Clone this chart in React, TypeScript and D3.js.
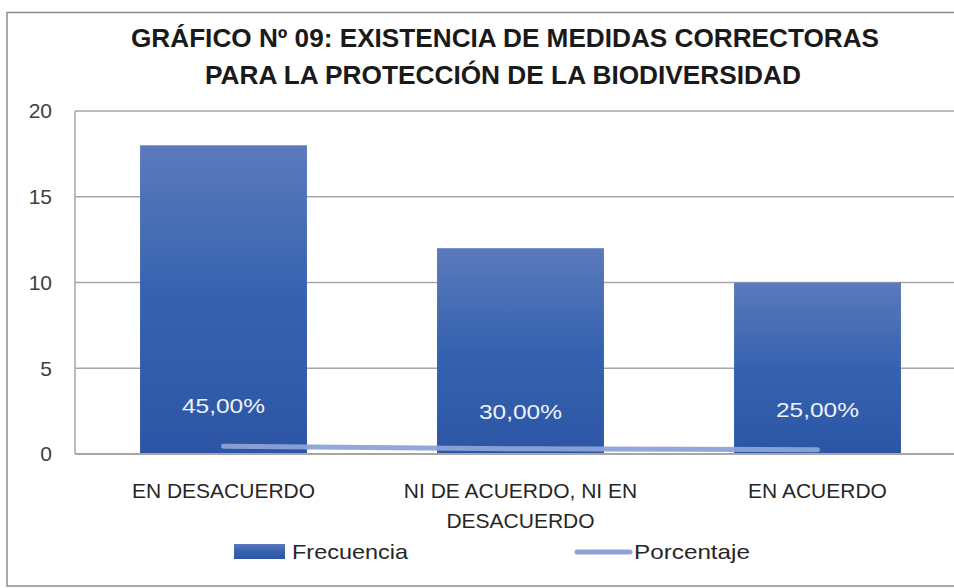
import React from 'react';
import * as d3 from 'd3';

const categories = ['EN DESACUERDO', 'NI DE ACUERDO, NI EN|DESACUERDO', 'EN ACUERDO'];
const frecuencia = [18, 12, 10];
const porcentaje = [0.45, 0.30, 0.25];
const pctLabels = ['45,00%', '30,00%', '25,00%'];
const yTicks = [0, 5, 10, 15, 20];

const W = 954;
const H = 588;
const plot = { left: 75, right: 966, top: 111, bottom: 454 };
const font = '"Liberation Sans", Arial, sans-serif';

const App = () => {
  const x = d3.scaleBand<string>()
    .domain(categories)
    .range([plot.left, plot.right])
    .paddingInner(0.438)
    .paddingOuter(0.219);

  const y = d3.scaleLinear()
    .domain([0, 20])
    .range([plot.bottom, plot.top]);

  const cx = (c: string) => (x(c) as number) + x.bandwidth() / 2;

  const line = d3.line<number>()
    .x((_, i) => cx(categories[i]))
    .y(d => y(d));

  // label offsets above the line points (as the source placed them)
  const labelDy = [-41, -37, -40];

  return (
    <svg width={W} height={H} style={{ position: 'absolute', left: 0, top: 0 }}>
      <defs>
        <linearGradient id="barGrad" x1="0" y1="0" x2="0" y2="1">
          <stop offset="0%" stopColor="#5b7abb" />
          <stop offset="50%" stopColor="#3562b0" />
          <stop offset="100%" stopColor="#2c56a5" />
        </linearGradient>
      </defs>
      <rect x={0} y={0} width={W} height={H} fill="#fff" />
      {/* outer frame */}
      <rect x={7} y={12.5} width={960} height={573.5} fill="none" stroke="#8c8c8c" strokeWidth={1.5} />

      {/* title */}
      <text x={505} y={47} textAnchor="middle" fontFamily={font} fontWeight="bold" fontSize={25}
        fill="#1a1a1a" textLength={748} lengthAdjust="spacingAndGlyphs">
        GRÁFICO Nº 09: EXISTENCIA DE MEDIDAS CORRECTORAS
      </text>
      <text x={503} y={84} textAnchor="middle" fontFamily={font} fontWeight="bold" fontSize={25}
        fill="#1a1a1a" textLength={596} lengthAdjust="spacingAndGlyphs">
        PARA LA PROTECCIÓN DE LA BIODIVERSIDAD
      </text>

      {/* plot frame + gridlines */}
      <line x1={plot.left} x2={plot.left} y1={plot.top} y2={plot.bottom} stroke="#a6a6a6" strokeWidth={1.5} />
      {yTicks.filter(t => t > 0).map(t => (
        <line key={t} x1={plot.left} x2={plot.right} y1={y(t)} y2={y(t)} stroke="#a6a6a6" strokeWidth={1.5} />
      ))}

      {/* y tick labels */}
      {yTicks.map(t => (
        <text key={t} x={52} y={y(t)} dy="0.35em" textAnchor="end" fontFamily={font} fontSize={21} fill="#404040">
          {t}
        </text>
      ))}

      {/* bars */}
      {categories.map((c, i) => (
        <rect key={c} x={x(c)} y={y(frecuencia[i])} width={x.bandwidth()} height={plot.bottom - y(frecuencia[i])}
          fill="url(#barGrad)" />
      ))}

      {/* baseline */}
      <line x1={plot.left} x2={plot.right} y1={plot.bottom} y2={plot.bottom} stroke="#a6a6a6" strokeWidth={2} />

      {/* porcentaje line */}
      <path d={line(porcentaje) as string} fill="none" stroke="#8da3d6" strokeOpacity={0.95} strokeWidth={5}
        strokeLinecap="round" />

      {/* data labels */}
      {categories.map((c, i) => (
        <text key={c} x={cx(c)} y={y(porcentaje[i]) + labelDy[i]} dy="0.35em" textAnchor="middle"
          fontFamily={font} fontSize={21} fill="#eef2fa" textLength={83} lengthAdjust="spacingAndGlyphs">
          {pctLabels[i]}
        </text>
      ))}

      {/* x labels */}
      {categories.map(c => (
        <text key={c} x={cx(c)} y={498} textAnchor="middle" fontFamily={font} fontSize={21} fill="#262626">
          {c.split('|').map((s, j) => (
            <tspan key={j} x={cx(c)} dy={j === 0 ? 0 : 30}>{s}</tspan>
          ))}
        </text>
      ))}

      {/* legend */}
      <rect x={234} y={544} width={51} height={15} fill="url(#barGrad)" />
      <text x={292} y={552} dy="0.35em" fontFamily={font} fontSize={21} fill="#262626"
        textLength={116} lengthAdjust="spacingAndGlyphs">Frecuencia</text>
      <line x1={577} x2={630} y1={552} y2={552} stroke="#8da3d6" strokeWidth={5} strokeLinecap="round" />
      <text x={634} y={552} dy="0.35em" fontFamily={font} fontSize={21} fill="#262626"
        textLength={116} lengthAdjust="spacingAndGlyphs">Porcentaje</text>
    </svg>
  );
};

export default App;
